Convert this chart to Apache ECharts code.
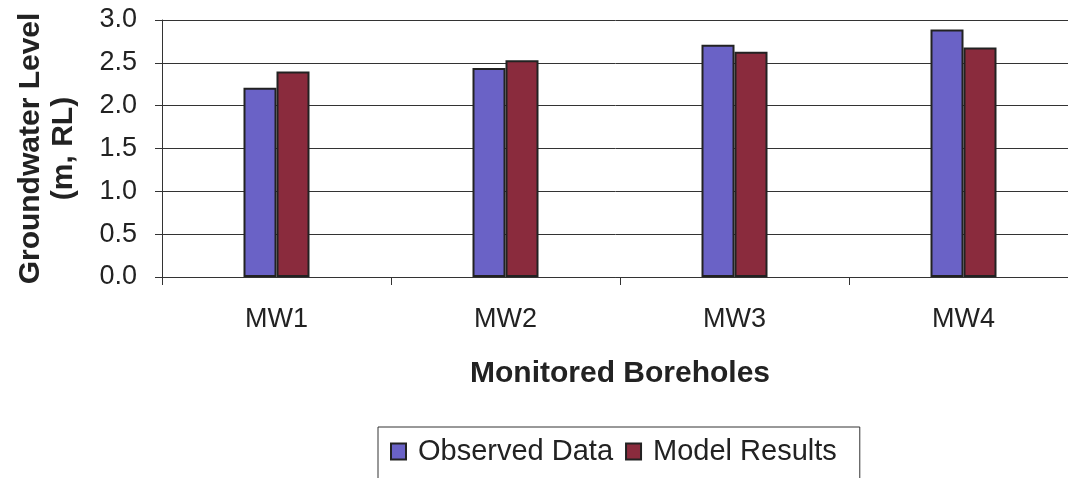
<!DOCTYPE html>
<html><head><meta charset="utf-8">
<script src="https://cdn.jsdelivr.net/npm/echarts@6/dist/echarts.min.js"></script>
<style>html,body{margin:0;padding:0;background:#fff}#c{width:1068px;height:478px}</style>
</head><body><div id="c"></div>
<script>
const categories = ['MW1', 'MW2', 'MW3', 'MW4'];
const observed = [2.21, 2.44, 2.71, 2.89];
const model = [2.40, 2.53, 2.63, 2.68];
const yTicks = { min: 0, max: 3, interval: 0.5 };

const chart = echarts.init(document.getElementById('c'), null, { renderer: 'canvas' });
const font = '"Liberation Sans", Arial, sans-serif';
chart.setOption({
  animation: false,
  backgroundColor: '#fff',
  textStyle: { fontFamily: font },
  grid: { left: 162, top: 20, width: 916, height: 257, containLabel: false, outerBoundsMode: 'none' },
  xAxis: {
    type: 'category',
    data: categories,
    name: 'Monitored Boreholes',
    nameLocation: 'middle',
    nameGap: 82,
    nameTextStyle: { fontFamily: font, fontSize: 30, fontWeight: 'bold', color: '#222' },
    axisLine: { lineStyle: { color: '#333', width: 1 } },
    axisTick: { show: true, alignWithLabel: false, length: 8, lineStyle: { color: '#333' } },
    axisLabel: { fontFamily: font, fontSize: 27, color: '#222', margin: 29 }
  },
  yAxis: {
    type: 'value',
    min: yTicks.min, max: yTicks.max, interval: yTicks.interval,
    name: 'Groundwater Level\n(m, RL)',
    nameLocation: 'middle',
    nameGap: 82,
    nameRotate: 90,
    nameTextStyle: { fontFamily: font, fontSize: 30, fontWeight: 'bold', color: '#222', lineHeight: 33 },
    axisLine: { show: true, lineStyle: { color: '#333', width: 1 } },
    axisTick: { show: true, length: 7, lineStyle: { color: '#333' } },
    axisLabel: { fontFamily: font, fontSize: 27, color: '#222', margin: 25, formatter: v => v.toFixed(1) },
    splitLine: { show: true, lineStyle: { color: '#333', width: 1 } }
  },
  legend: {
    data: ['Observed Data', 'Model Results'],
    left: 378, top: 427,
    orient: 'horizontal',
    itemWidth: 15, itemHeight: 16, itemGap: 12,
    borderColor: '#333', borderWidth: 1,
    padding: [10, 23, 20, 12],
    textStyle: { fontFamily: font, fontSize: 29, color: '#222', padding: [0, 0, 0, 7] },
    icon: 'rect'
  },
  series: [
    {
      name: 'Observed Data', type: 'bar', data: observed,
      barWidth: 33, barGap: '0%',
      itemStyle: { color: '#6a62c6', borderColor: '#222', borderWidth: 2 }
    },
    {
      name: 'Model Results', type: 'bar', data: model,
      barWidth: 33, barGap: '0%',
      itemStyle: { color: '#8a2b3d', borderColor: '#222', borderWidth: 2 }
    }
  ]
});
</script></body></html>
